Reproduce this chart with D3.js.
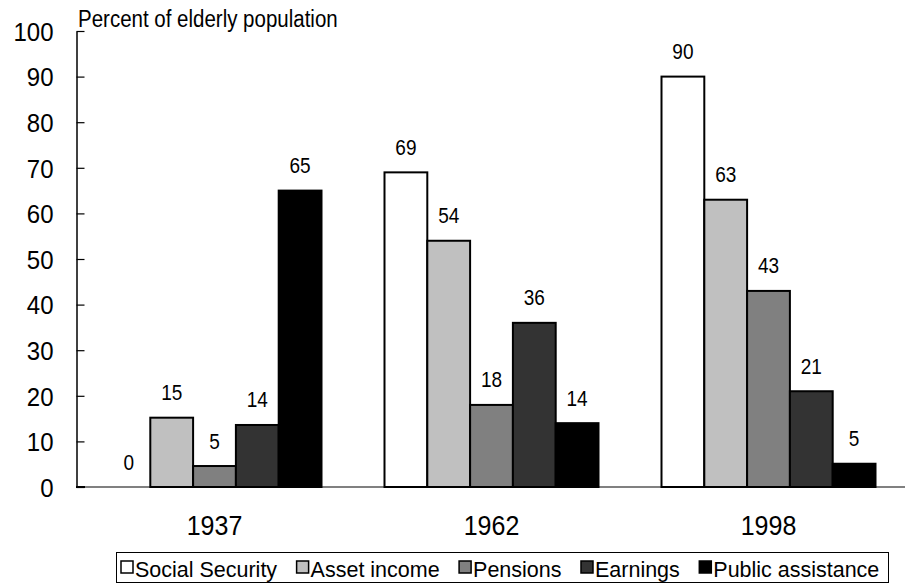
<!DOCTYPE html>
<html><head><meta charset="utf-8">
<script src="https://cdn.jsdelivr.net/npm/d3@7"></script>
<style>body{margin:0;background:#fff;} svg{display:block;} text{font-family:"Liberation Sans",Arial,sans-serif;fill:#000;}</style>
</head><body>
<svg id="c" width="905" height="584"></svg>
<script>
const years = ["1937", "1962", "1998"];
const seriesNames = ["Social Security", "Asset income", "Pensions", "Earnings", "Public assistance"];
const seriesColors = ["#ffffff", "#c0c0c0", "#808080", "#333333", "#000000"];
const socialSecurity = [0, 69, 90];
const assetIncome = [15.2, 54, 63];
const pensions = [4.6, 18, 43];
const earnings = [13.6, 36, 21];
const publicAssistance = [65, 14, 5.1];
const yTicks = [0, 10, 20, 30, 40, 50, 60, 70, 80, 90, 100];

const seriesValues = [socialSecurity, assetIncome, pensions, earnings, publicAssistance];
const svg = d3.select("#c");
const y = d3.scaleLinear().domain([0, 100]).range([487, 31]);
const x0 = d3.scaleBand().domain(years).range([76, 907]);
const x1 = d3.scaleBand().domain(seriesNames).range([31.5, 245.5]);

function txt(parent, x, yy, size, k, str, anchor) {
  return parent.append("text")
    .attr("transform", `translate(${x},${yy}) scale(1,${k})`)
    .attr("font-size", size).attr("text-anchor", anchor || "start").text(str);
}

// y axis
const yAxis = d3.axisLeft(y).tickValues(yTicks).tickSizeInner(-8).tickSizeOuter(0).tickPadding(23);
const ga = svg.append("g").attr("transform", "translate(76.5,0)").call(yAxis);
ga.select(".domain").attr("stroke", "#000").attr("stroke-width", 1.5);
ga.selectAll(".tick line").attr("stroke", "#000").attr("stroke-width", 1.2);
ga.selectAll(".tick text").attr("font-size", 24).attr("dy", "0.36em").attr("transform", "scale(1,1.07)");

// x axis line
svg.append("line").attr("x1", 76).attr("x2", 905).attr("y1", y(0)).attr("y2", y(0))
  .attr("stroke", "#808080").attr("stroke-width", 2);
svg.append("line").attr("x1", 76).attr("x2", 85).attr("y1", y(0)).attr("y2", y(0))
  .attr("stroke", "#000").attr("stroke-width", 2);

// bars
years.forEach((yr, i) => {
  const g = svg.append("g").attr("transform", `translate(${x0(yr)},0)`);
  seriesNames.forEach((s, j) => {
    const v = seriesValues[j][i];
    if (v > 0) {
      g.append("rect").attr("x", x1(s)).attr("width", x1.bandwidth())
        .attr("y", y(v)).attr("height", y(0) - y(v))
        .attr("fill", seriesColors[j]).attr("stroke", "#000").attr("stroke-width", 2);
    }
    txt(g, x1(s) + x1.bandwidth() / 2, y(v) - 17.5, 19, 1.13, d3.format(".0f")(v), "middle");
  });
});

// x labels
years.forEach(yr => {
  txt(svg, x0(yr) + x1(seriesNames[2]) + x1.bandwidth() / 2, 535, 25, 1.09, yr, "middle");
});

// title
txt(svg, 78, 27, 20.5, 1.14, "Percent of elderly population");

// legend
const lg = svg.append("g");
lg.append("rect").attr("x", 116.5).attr("y", 552.5).attr("width", 772).attr("height", 30)
  .attr("fill", "#fff").attr("stroke", "#000").attr("stroke-width", 1);
let lx = 121;
seriesNames.forEach((s, j) => {
  lg.append("rect").attr("x", lx).attr("y", 561).attr("width", 12).attr("height", 12)
    .attr("fill", seriesColors[j]).attr("stroke", "#000").attr("stroke-width", 1.5);
  const t = txt(lg, lx + 14, 576.5, 21.5, 1.06, s);
  lx += 14 + t.node().getComputedTextLength() + 19.5;
});
</script>
</body></html>
